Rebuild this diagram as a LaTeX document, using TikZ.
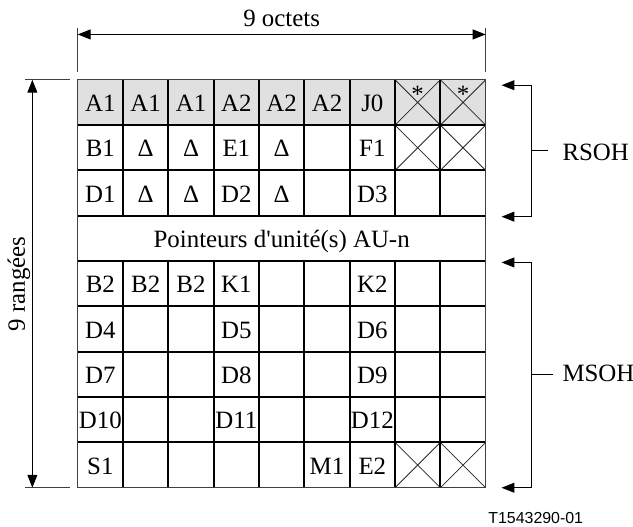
\documentclass[tikz,border=0pt]{standalone}
\usepackage{fontspec}
\setmainfont{Liberation Serif}
\newfontfamily\tagfont{Liberation Sans}
\usepackage{tikz}
\usetikzlibrary{arrows.meta, calc, positioning}
\usepackage{xcolor}
\definecolor{hdrgray}{gray}{0.88}

\begin{document}
\begin{tikzpicture}[x=0.8cm, y=0.8cm,
    font=\fontsize{12.5}{14}\selectfont,
    cell/.style={anchor=base, inner sep=0pt},
    gridline/.style={line width=1pt},
    frameline/.style={line width=0.5pt, black!75},
    crossline/.style={line width=0.4pt, black!85},
    extline/.style={line width=0.5pt, black!75},
    dimarrows/.style={line width=0.5pt, {Triangle[length=6.5pt,width=5pt]}-{Triangle[length=6.5pt,width=5pt]}}]
    \useasboundingbox (-1.714,-0.845) rectangle (12.25,10.76);
    % frame: rows 1-3 RSOH, row 4 pointers, rows 5-9 MSOH
    \fill[hdrgray] (0,8) rectangle (9,9);
    \foreach \x/\y in {7/8, 8/8, 7/7, 8/7, 7/0, 8/0}
        \draw[crossline] (\x,\y) -- ++(1,1) (\x,\y+1) -- ++(1,-1);
    \foreach \y in {1,...,8}
        \draw[gridline] (0,\y) -- (9,\y);
    \foreach \x in {1,...,8} {
        \draw[gridline] (\x,0) -- (\x,5);
        \draw[gridline] (\x,6) -- (\x,9);
    }
    \draw[frameline] (0,0) rectangle (9,9);

    % cell labels
    \foreach \c/\t in {1/A1, 2/A1, 3/A1, 4/A2, 5/A2, 6/A2, 7/J0}
        \node[cell] (r1c\c) at (\c-0.5, 8.3) {\t};
    \foreach \c in {8,9}
        \node[cell] (r1c\c) at (\c-0.5, 8.5) {*};
    \foreach \c/\t in {1/B1, 2/Δ, 3/Δ, 4/E1, 5/Δ, 7/F1}
        \node[cell] (r2c\c) at (\c-0.5, 7.3) {\t};
    \foreach \c/\t in {1/D1, 2/Δ, 3/Δ, 4/D2, 5/Δ, 7/D3}
        \node[cell] (r3c\c) at (\c-0.5, 6.3) {\t};
    \node[cell] (ptr) at (4.5, 5.3) {Pointeurs d\textquotesingle unité(s) AU-n};
    \foreach \c/\t in {1/B2, 2/B2, 3/B2, 4/K1, 7/K2}
        \node[cell] (r5c\c) at (\c-0.5, 4.3) {\t};
    \foreach \c/\t in {1/D4, 4/D5, 7/D6}
        \node[cell] (r6c\c) at (\c-0.5, 3.3) {\t};
    \foreach \c/\t in {1/D7, 4/D8, 7/D9}
        \node[cell] (r7c\c) at (\c-0.5, 2.3) {\t};
    \foreach \c/\t in {1/D10, 4/D11, 7/D12}
        \node[cell] (r8c\c) at (\c-0.5, 1.3) {\t};
    \foreach \c/\t in {1/S1, 6/M1, 7/E2}
        \node[cell] (r9c\c) at (\c-0.5, 0.3) {\t};

    % dimensions
    \coordinate (oct-l) at (0,10);
    \coordinate (oct-r) at (9,10);
    \draw[extline] (0,9.17) -- (0,10.15) (9,9.17) -- (9,10.15);
    \draw[dimarrows] (oct-l) -- (oct-r);
    \node[anchor=base] (octets) at (4.5,10.17) {9 octets};
    \coordinate (rg-b) at (-1,0);
    \coordinate (rg-t) at (-1,9);
    \draw[extline] (-1.16,0) -- (-0.17,0) (-1.16,9) -- (-0.17,9);
    \draw[dimarrows] (rg-b) -- (rg-t);
    \node[rotate=90, anchor=base] (rangees) at (-1.163,4.5) {9 rangées};

    % overhead brackets
    \coordinate (rs-top) at (9.35,8.88);
    \coordinate (rs-bot) at (9.35,5.98);
    \coordinate (rs-mid) at (10,7.43);
    \draw[dimarrows] (rs-top) -- ++(0.65,0) |- (rs-bot);
    \draw[line width=0.5pt] (rs-mid) -- ++(0.37,0);
    \node[anchor=base west] (rsoh) at (10.54,7.23) {RSOH};
    \coordinate (ms-top) at (9.35,4.97);
    \coordinate (ms-bot) at (9.35,0);
    \coordinate (ms-mid) at (10,2.49);
    \draw[dimarrows] (ms-top) -- ++(0.65,0) |- (ms-bot);
    \draw[line width=0.5pt] (ms-mid) -- ++(0.48,0);
    \node[anchor=base west] (msoh) at (10.54,2.34) {MSOH};

    \node[anchor=base west, inner sep=0pt, font=\tagfont\fontsize{8}{9}\selectfont] (tag) at (9.05,-0.785) {T1543290-01};
\end{tikzpicture}
\end{document}
